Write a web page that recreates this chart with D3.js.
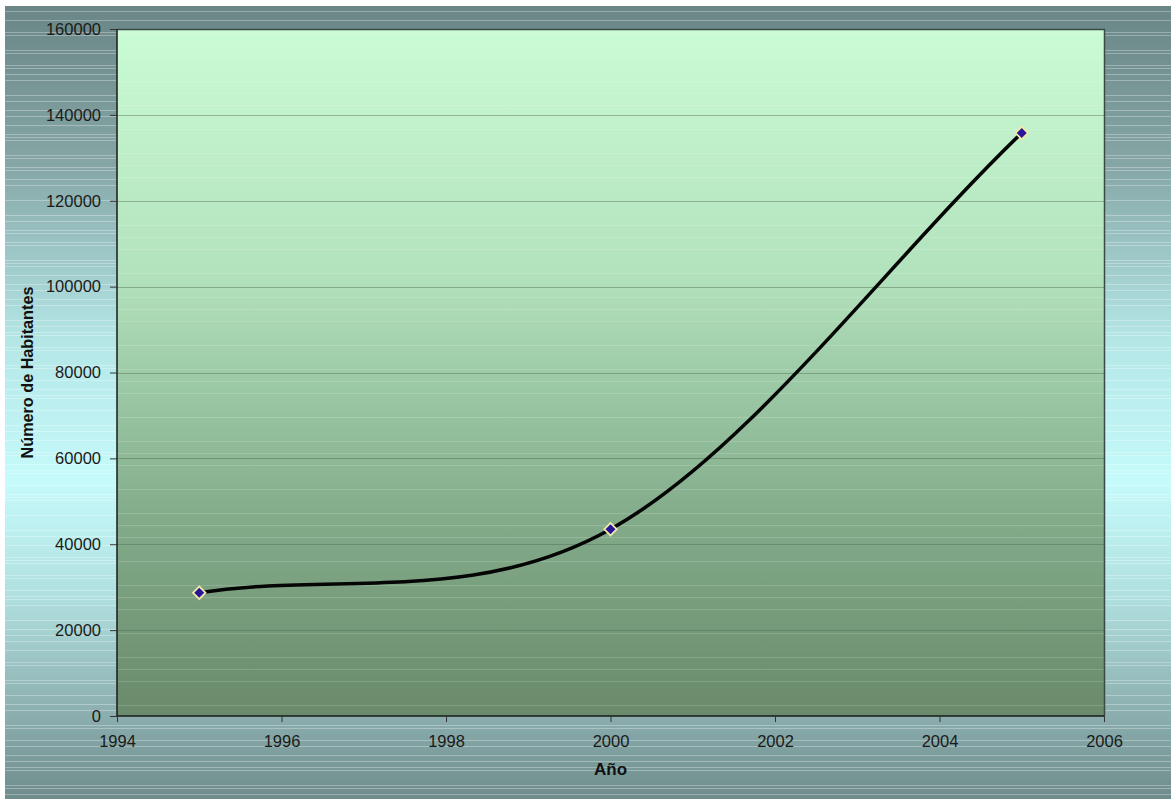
<!DOCTYPE html>
<html>
<head>
<meta charset="utf-8">
<script src="https://cdn.jsdelivr.net/npm/d3@7"></script>
<style>
  html, body { margin: 0; padding: 0; background: #ffffff; }
  svg { display: block; }
  text { font-family: "Liberation Sans", Arial, sans-serif; }
</style>
</head>
<body>
<svg id="chart" width="1171" height="799"></svg>
<script>
// Población por año
const years = [1995, 2000, 2005];
const habitantes = [28700, 43500, 135800];

const xTicks = [1994, 1996, 1998, 2000, 2002, 2004, 2006];
const yTicks = [0, 20000, 40000, 60000, 80000, 100000, 120000, 140000, 160000];

const W = 1171, H = 799;
const margin = { left: 117, right: 67, top: 29, bottom: 83 };
const plotW = W - margin.left - margin.right;
const plotH = H - margin.top - margin.bottom;

const svg = d3.select("#chart");
const defs = svg.append("defs");

// Outer background: teal-grey fading to pale cyan and back
const bgGrad = defs.append("linearGradient")
  .attr("id", "bgGrad").attr("x1", 0).attr("y1", 0).attr("x2", 0).attr("y2", 1);
[[0, "#6a8686"], [0.2, "#86a6a6"], [0.42, "#b4e6e6"], [0.6, "#c6fbfb"], [0.75, "#afdede"], [0.88, "#8fb2b2"], [1, "#6f8c8c"]]
  .forEach(([o, c]) => bgGrad.append("stop").attr("offset", o).attr("stop-color", c));

// Plot area: pale green at top to muted green at bottom
const plotGrad = defs.append("linearGradient")
  .attr("id", "plotGrad").attr("x1", 0).attr("y1", 0).attr("x2", 0).attr("y2", 1);
[[0, "#c9fbd5"], [0.35, "#b3e3bd"], [0.7, "#84ad8c"], [1, "#698a6b"]]
  .forEach(([o, c]) => plotGrad.append("stop").attr("offset", o).attr("stop-color", c));

svg.append("rect")
  .attr("x", 5).attr("y", 6).attr("width", W - 5).attr("height", H - 6)
  .attr("fill", "url(#bgGrad)");

// Fine horizontal light banding across the background
const bands = svg.append("g").attr("opacity", 0.3);
for (let y = 8; y < H; y += 3) {
  const k = Math.floor(y / 3);
  if (k % 5 === 1 || k % 7 === 3 || k % 11 === 0) {
    bands.append("line")
      .attr("x1", 5).attr("x2", W).attr("y1", y + 0.5).attr("y2", y + 0.5)
      .attr("stroke", "#ffffff").attr("stroke-width", 1);
  }
}

const x = d3.scaleLinear().domain([1994, 2006]).range([margin.left, margin.left + plotW]);
const y = d3.scaleLinear().domain([0, 160000]).range([margin.top + plotH, margin.top]);

svg.append("rect")
  .attr("x", margin.left).attr("y", margin.top)
  .attr("width", plotW).attr("height", plotH)
  .attr("fill", "url(#plotGrad)");

// Faint banding inside the plot
const pb = svg.append("g").attr("opacity", 0.16);
for (let yy = margin.top + 4; yy < margin.top + plotH; yy += 4) {
  const k = Math.floor(yy / 4);
  if (k % 6 === 2 || k % 9 === 5) {
    pb.append("line")
      .attr("x1", margin.left).attr("x2", margin.left + plotW)
      .attr("y1", yy + 0.5).attr("y2", yy + 0.5)
      .attr("stroke", "#ffffff");
  }
}

// Major gridlines
svg.append("g")
  .selectAll("line")
  .data(yTicks.filter(d => d > 0 && d < 160000))
  .join("line")
  .attr("x1", margin.left).attr("x2", margin.left + plotW)
  .attr("y1", d => Math.round(y(d)) + 0.5).attr("y2", d => Math.round(y(d)) + 0.5)
  .attr("stroke", "#4f6a55").attr("stroke-opacity", 0.45).attr("stroke-width", 1);

// Plot frame (top and right)
svg.append("path")
  .attr("d", `M${margin.left},${margin.top + 0.5}H${margin.left + plotW + 0.5}V${margin.top + plotH}`)
  .attr("fill", "none").attr("stroke", "#3a4a44").attr("stroke-width", 1.5);

// Axes
const yAxis = d3.axisLeft(y).tickValues(yTicks).tickSize(7).tickPadding(9).tickFormat(d3.format("d"));
const xAxis = d3.axisBottom(x).tickValues(xTicks).tickSize(6).tickPadding(13).tickFormat(d3.format("d"));

const gy = svg.append("g").attr("transform", `translate(${margin.left},0)`).call(yAxis);
const gx = svg.append("g").attr("transform", `translate(0,${margin.top + plotH})`).call(xAxis);

[gx, gy].forEach(g => {
  g.select(".domain").attr("stroke", "#1a1a1a").attr("stroke-width", 1.5);
  g.selectAll(".tick line").attr("stroke", "#333");
  g.selectAll(".tick text").attr("fill", "#1a1a1a").style("font-size", "16.5px");
});
gy.select(".domain").attr("d", `M0,${margin.top}V${margin.top + plotH}`);
gx.select(".domain").attr("d", `M${margin.left},0H${margin.left + plotW}`);

// Axis titles
svg.append("text")
  .attr("x", margin.left + plotW / 2).attr("y", 775)
  .attr("text-anchor", "middle")
  .style("font-size", "17px").style("font-weight", "bold").attr("fill", "#111")
  .text("Año");

svg.append("text")
  .attr("transform", `translate(33,${margin.top + plotH / 2}) rotate(-90)`)
  .attr("text-anchor", "middle")
  .style("font-size", "16.2px").style("font-weight", "bold").attr("fill", "#111")
  .text("Número de Habitantes");

// Smoothing curve: cubic Béziers with Catmull-Rom tangents (1/6 of the
// neighbour span) at interior points and 1/3 of the chord at the ends.
function curveSmooth(context) {
  let pts = [];
  return {
    areaStart() {}, areaEnd() {},
    lineStart() { pts = []; },
    point(px, py) { pts.push([+px, +py]); },
    lineEnd() {
      const n = pts.length;
      if (!n) return;
      context.moveTo(pts[0][0], pts[0][1]);
      if (n === 1) return;
      if (n === 2) { context.lineTo(pts[1][0], pts[1][1]); return; }
      const tan = pts.map((p, i) => {
        if (i === 0) return [(pts[1][0] - p[0]) / 3, (pts[1][1] - p[1]) / 3];
        if (i === n - 1) return [(p[0] - pts[n - 2][0]) / 3, (p[1] - pts[n - 2][1]) / 3];
        return [(pts[i + 1][0] - pts[i - 1][0]) / 6, (pts[i + 1][1] - pts[i - 1][1]) / 6];
      });
      for (let i = 0; i < n - 1; i++) {
        const a = pts[i], b = pts[i + 1];
        context.bezierCurveTo(
          a[0] + tan[i][0], a[1] + tan[i][1],
          b[0] - tan[i + 1][0], b[1] - tan[i + 1][1],
          b[0], b[1]);
      }
    }
  };
}

const pts = years.map((yr, i) => [yr, habitantes[i]]);
const line = d3.line()
  .x(d => x(d[0])).y(d => y(d[1]))
  .curve(curveSmooth);

svg.append("path")
  .datum(pts)
  .attr("d", line)
  .attr("fill", "none").attr("stroke", "#050505").attr("stroke-width", 3.5)
  .attr("stroke-linejoin", "round");

// Diamond markers
const diamond = d3.symbol().type(d3.symbolSquare).size(78);
svg.append("g")
  .selectAll("path")
  .data(pts)
  .join("path")
  .attr("d", diamond)
  .attr("transform", d => `translate(${x(d[0])},${y(d[1])}) rotate(45)`)
  .attr("fill", "#27169a").attr("stroke", "#f1e9a8").attr("stroke-width", 1.8);
</script>
</body>
</html>
